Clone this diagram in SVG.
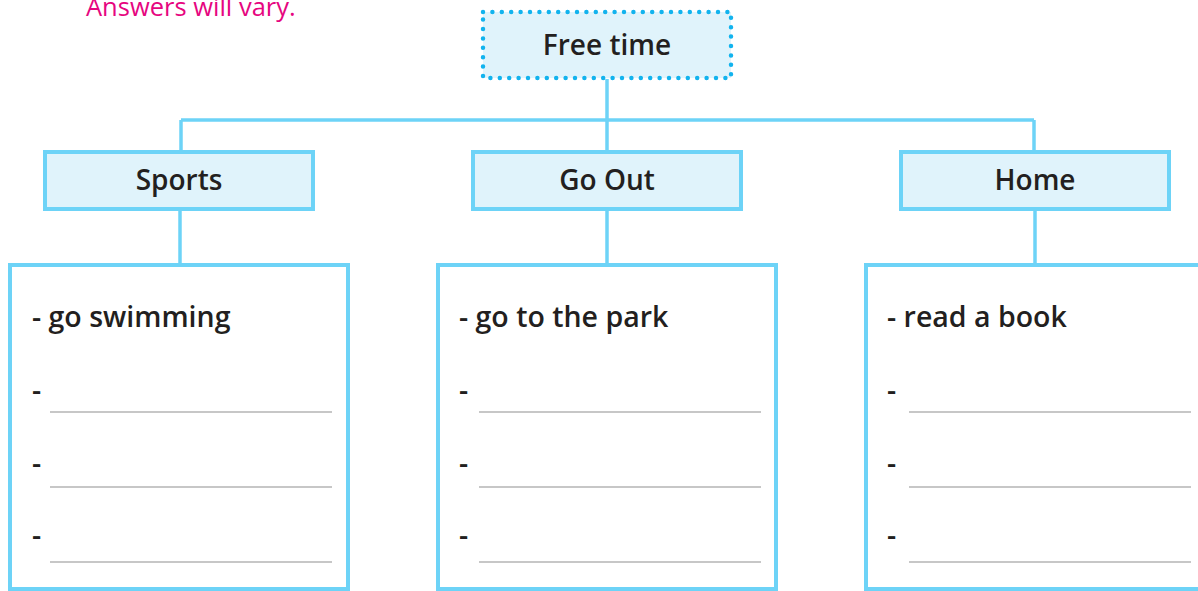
<svg xmlns="http://www.w3.org/2000/svg" width="1198" height="591" viewBox="0 0 1198 591">
<style>
.t{font-family:"Open Sans","Liberation Sans",sans-serif;font-weight:600;fill:#231f20}
.h{font-size:28px;text-anchor:middle}
.b{font-size:28.5px}
.head{fill:#e0f3fb;stroke:#6dd3f7;stroke-width:4}
.body{fill:#ffffff;stroke:#6dd3f7;stroke-width:4}
.conn{stroke:#6dd3f7;stroke-width:3.5;fill:none}
.ln{stroke:#b5b5b5;stroke-width:1.6}
</style>
<rect width="1198" height="591" fill="#ffffff"/>
<text x="86" y="16" font-family="Open Sans, Liberation Sans, sans-serif" font-size="25.5" fill="#e6067f">Answers will vary.</text>
<g id="connectors">
<path class="conn" d="M607 79 V152 M181 120 H1034 M181 120 V152 M1034 120 V152 M180 210 V265 M607 210 V265 M1035 210 V265"/>
</g>
<g id="free-time">
<rect x="483" y="12" width="248" height="66" fill="#e0f3fb"/>
<rect x="483" y="12" width="248" height="66" fill="none" stroke="#12b3ee" stroke-width="4.5" stroke-linecap="round" stroke-dasharray="0 9.4"/>
<text class="t h" x="607" y="55">Free time</text>
</g>
<g id="sports">
<rect class="head" x="45" y="152" width="268" height="57"/>
<text class="t h" x="179" y="190">Sports</text>
</g>
<g id="go-out">
<rect class="head" x="473" y="152" width="268" height="57"/>
<text class="t h" x="607" y="190">Go Out</text>
</g>
<g id="home">
<rect class="head" x="901" y="152" width="268" height="57"/>
<text class="t h" x="1035" y="190">Home</text>
</g>
<g id="sports-list">
<rect class="body" x="10" y="265" width="338" height="324"/>
<text class="t b" x="32" y="327">- go swimming</text>
<text class="t b" x="32" y="400">-</text>
<text class="t b" x="32" y="473">-</text>
<text class="t b" x="32" y="545">-</text>
<line class="ln" x1="50" y1="412" x2="332" y2="412"/>
<line class="ln" x1="50" y1="487" x2="332" y2="487"/>
<line class="ln" x1="50" y1="562" x2="332" y2="562"/>
</g>
<g id="go-out-list">
<rect class="body" x="438" y="265" width="338" height="324"/>
<text class="t b" x="459" y="327">- go to the park</text>
<text class="t b" x="459" y="400">-</text>
<text class="t b" x="459" y="473">-</text>
<text class="t b" x="459" y="545">-</text>
<line class="ln" x1="479" y1="412" x2="761" y2="412"/>
<line class="ln" x1="479" y1="487" x2="761" y2="487"/>
<line class="ln" x1="479" y1="562" x2="761" y2="562"/>
</g>
<g id="home-list">
<rect class="body" x="866" y="265" width="338" height="324"/>
<text class="t b" x="887" y="327">- read a book</text>
<text class="t b" x="887" y="400">-</text>
<text class="t b" x="887" y="473">-</text>
<text class="t b" x="887" y="545">-</text>
<line class="ln" x1="909" y1="412" x2="1191" y2="412"/>
<line class="ln" x1="909" y1="487" x2="1191" y2="487"/>
<line class="ln" x1="909" y1="562" x2="1191" y2="562"/>
</g>
</svg>
